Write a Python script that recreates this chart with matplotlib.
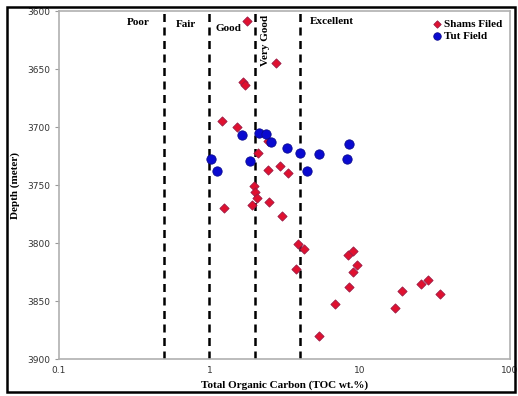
import matplotlib
matplotlib.use("Agg")
import matplotlib.pyplot as plt
from matplotlib.patches import Rectangle

# Shams field samples (TOC wt.%, depth m)
shams_toc = [1.77, 2.78, 1.68, 1.72, 1.21, 1.52, 2.47, 2.12, 2.47, 2.95,
             3.36, 1.99, 2.02, 2.07, 1.91, 2.50, 1.26, 3.05, 3.91, 4.27,
             3.76, 8.41, 9.0, 9.57, 9.08, 8.50, 6.86, 5.39, 19.2, 17.2,
             25.5, 28.4, 34.3]
shams_depth = [3609, 3645, 3661, 3664, 3695, 3700, 3712, 3722, 3737, 3734,
               3740, 3751, 3756, 3761, 3767, 3765, 3770, 3777, 3801, 3805,
               3822, 3810, 3807, 3819, 3825, 3838, 3853, 3880, 3841, 3856,
               3835, 3832, 3844]

# Tut field samples
tut_toc = [1.03, 1.13, 1.64, 1.85, 2.15, 2.38, 2.57, 3.30, 4.01, 4.45,
           5.39, 8.20, 8.55]
tut_depth = [3728, 3738, 3707, 3729, 3705, 3706, 3713, 3718, 3722, 3738,
             3723, 3728, 3715]

# class limits and their labels
limits = [0.5, 1, 2, 4]
classes = ["Poor", "Fair", "Good", "Very Good", "Excellent"]
class_x = [0.336, 0.70, 1.35, 2.38, 4.68]
class_y = [3610, 3612, 3615, 3625, 3609]

serif = "Liberation Serif"

fig = plt.figure(figsize=(5.18, 3.96), dpi=100)
ax = fig.add_axes([0.1139, 0.0934, 0.8707, 0.8788])

ax.scatter(shams_toc, shams_depth, marker="D", s=22, color="#E0102F",
           edgecolors="#9A1A45", linewidths=0.6, label="Shams Filed", zorder=3)
ax.scatter(tut_toc, tut_depth, marker="o", s=45, color="#0A0AD0",
           edgecolors="#0A0A90", linewidths=0.6, label="Tut Field", zorder=4)

for v in limits:
    ax.axvline(v, color="black", lw=1.8, linestyle=(0, (3.2, 2.2)), zorder=2)

for i, name in enumerate(classes):
    if name == "Very Good":
        ax.text(class_x[i], class_y[i], name, rotation=90, ha="center",
                va="center", fontsize=8, fontweight="bold", family=serif)
    elif name == "Excellent":
        ax.text(class_x[i], class_y[i], name, ha="left", va="center",
                fontsize=8, fontweight="bold", family=serif)
    else:
        ax.text(class_x[i], class_y[i], name, ha="center", va="center",
                fontsize=8, fontweight="bold", family=serif)

ax.set_xscale("log")
ax.set_xlim(0.1, 100)
ax.set_ylim(3900, 3600)
ax.set_xticks([0.1, 1, 10, 100])
ax.set_xticklabels(["0.1", "1", "10", "100"])
ax.set_yticks([3600, 3650, 3700, 3750, 3800, 3850, 3900])
ax.minorticks_off()
ax.tick_params(labelsize=6.5, labelcolor="#333333", color="#999999",
               length=3, width=0.8)
ax.tick_params(axis="x", length=0, pad=5)

for sp in ax.spines.values():
    sp.set_color("#B0B0B0")
    sp.set_linewidth(1.2)

ax.set_xlabel("Total Organic Carbon (TOC wt.%)", fontsize=8,
              fontweight="bold", family=serif, labelpad=4)
ax.set_ylabel("Depth (meter)", fontsize=8, fontweight="bold",
              family=serif, labelpad=5)

ax.legend(loc="upper right", frameon=False, handletextpad=0.1,
          borderaxespad=0.3, labelspacing=0.2, handlelength=1.0,
          markerscale=0.8,
          prop={"family": serif, "weight": "bold", "size": 8})

# outer frame around the whole picture
fig.patches.append(Rectangle((7 / 518, 1 - 392 / 396), 508 / 518, 385 / 396,
                             transform=fig.transFigure, fill=False,
                             edgecolor="black", lw=1.8))

plt.savefig("out.png", dpi=100)
plt.close()
